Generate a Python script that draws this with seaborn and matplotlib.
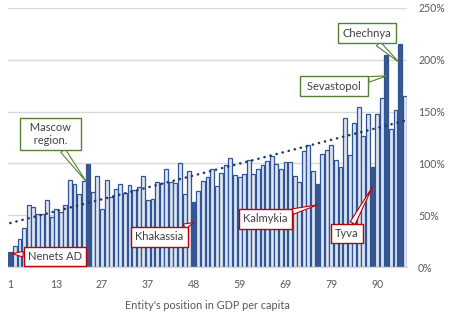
import numpy as np
import pandas as pd
import matplotlib
matplotlib.use("Agg")
import matplotlib.pyplot as plt
import seaborn as sns
from matplotlib.ticker import FuncFormatter

# GRP per capita relative to the Russian average, %, entities sorted by position
share = [
    14, 20, 27, 38, 60, 58, 51, 51, 65, 48,
    56, 53, 60, 84, 80, 70, 83, 99, 72, 88,
    56, 84, 68, 75, 80, 71, 79, 74, 77, 88,
    65, 66, 82, 81, 95, 82, 81, 100, 70, 93,
    63, 73, 83, 87, 95, 78, 91, 98, 105, 89,
    87, 90, 103, 90, 95, 98, 102, 107, 99, 95,
    101, 101, 88, 82, 112, 118, 93, 80, 109, 113,
    118, 103, 97, 144, 108, 139, 154, 126, 148, 97,
    148, 163, 205, 133, 152, 215, 165,
]

# highlighted entities (bar index -> name)
highlight_idx = [0, 17, 40, 67, 79, 82, 85]
highlight_names = ["Nenets AD", "Mascow\nregion.", "Khakassia", "Kalmykia",
                   "Tyva", "Sevastopol", "Chechnya"]

tick_idx = [0, 10, 20, 30, 40, 50, 60, 70, 80]
tick_labels = ["1", "13", "27", "37", "48", "59", "69", "79", "90"]
y_ticks = [0, 50, 100, 150, 200, 250]

LIGHT = "#DAE3F3"
DARK = "#2F5597"
TREND = "#203864"
GRID = "#D9D9D9"
TXT = "#595959"
RED = "#C00000"
GREEN = "#548235"

sns.set_theme(style="white")
plt.rcParams["font.family"] = ["Lato", "DejaVu Sans"]

W, H = 453, 322
fig = plt.figure(figsize=(W / 100, H / 100), dpi=100)
ax = fig.add_axes([8 / W, 55 / H, 399 / W, 259 / H])

n = len(share)
df = pd.DataFrame({
    "pos": np.arange(n),
    "share": share,
    "kind": ["dark" if i in highlight_idx else "light" for i in range(n)],
})

sns.barplot(data=df, x="pos", y="share", hue="kind",
            palette={"light": LIGHT, "dark": DARK}, dodge=False,
            width=0.85, edgecolor=DARK, linewidth=0.9, errorbar=None,
            legend=False, ax=ax, zorder=2)

# linear trend over all entities, dotted
sns.regplot(data=df, x="pos", y="share", scatter=False, ci=None, ax=ax,
            line_kws=dict(color=TREND, lw=1.8, linestyle=(0, (0.1, 2.4)),
                          dash_capstyle="round", zorder=3))

ax.set_xlim(-0.5, n - 0.5)
ax.set_ylim(0, 250)
ax.yaxis.tick_right()
ax.set_yticks(y_ticks)
ax.yaxis.set_major_formatter(FuncFormatter(lambda v, p: f"{v:.0f}%"))
ax.set_xticks(tick_idx)
ax.set_xticklabels(tick_labels)
ax.grid(axis="y", color=GRID, lw=1)
ax.grid(axis="x", visible=False)
ax.set_axisbelow(True)
for s in ["top", "left", "right"]:
    ax.spines[s].set_visible(False)
ax.spines["bottom"].set_color(GRID)
ax.spines["bottom"].set_linewidth(1)
ax.tick_params(axis="both", length=0, colors=TXT, labelsize=7.6)
ax.tick_params(axis="y", pad=8)
ax.tick_params(axis="x", pad=9)
ax.set_ylabel("")
ax.set_xlabel("Entity's position in GDP per capita", color=TXT,
              fontsize=7.8, labelpad=7)

# callout boxes: (box centre in pixels from top-left, tip offset, tip height
# fraction, colour, extra side spaces inside the box)
callouts = [
    ((55, 256.5), 0.4, 0.93, RED, 0),
    ((50.5, 134), -0.4, 0.83, GREEN, 2),
    ((159.5, 237), 0.0, 0.68, RED, 0),
    ((265.5, 219), 0.0, 0.75, RED, 0),
    ((347, 233.5), 0.0, 0.80, RED, 0),
    ((334, 86), 0.1, 0.90, GREEN, 1),
    ((366.7, 33.3), -0.3, 0.92, GREEN, 0),
]
for idx, name, (box, dx, fy, col, sp) in zip(highlight_idx, highlight_names, callouts):
    pad = " " * sp
    label = "\n".join(pad + line + pad for line in name.split("\n"))
    ax.annotate(
        label, xy=(idx + dx, share[idx] * fy), xycoords="data",
        xytext=(box[0], H - box[1]), textcoords="figure pixels",
        ha="center", va="center", fontsize=8, color="#404040",
        linespacing=1.15, zorder=5,
        bbox=dict(boxstyle="square,pad=0.4", fc="white", ec=col, lw=1),
        arrowprops=dict(arrowstyle="wedge,tail_width=0.5,shrink_factor=0.5",
                        fc="white", ec=col, lw=0.8, shrinkA=0, shrinkB=0),
    )

fig.savefig("out.png", dpi=100)
